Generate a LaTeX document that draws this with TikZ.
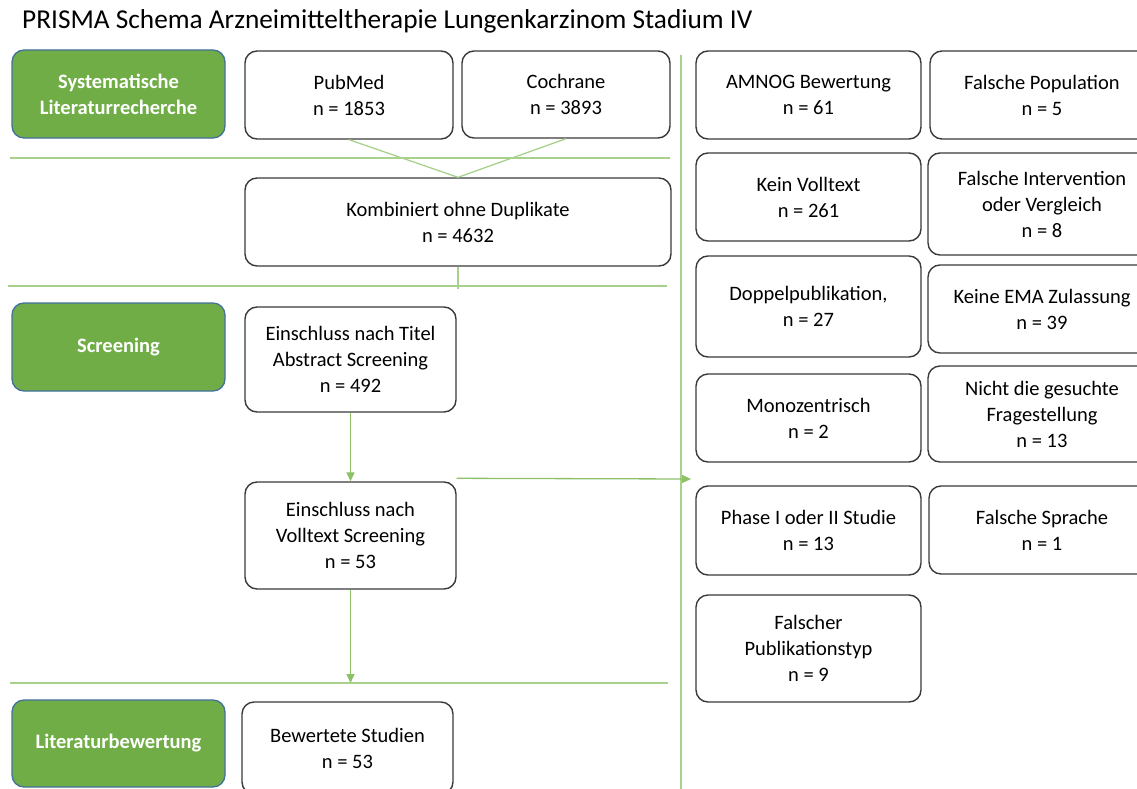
\documentclass[tikz,border=0pt]{standalone}
\usepackage{fontspec}
\setmainfont{Carlito}
\usetikzlibrary{arrows.meta}
\definecolor{gfill}{HTML}{70AD47}
\definecolor{gborder}{HTML}{41719C}
\definecolor{gline}{HTML}{A9D18E}
\definecolor{garrow}{HTML}{8CC168}
\definecolor{boxline}{HTML}{3A3A3A}
\newcommand\mkbox[7]{%
  \node[#1, minimum width={(#5-#3)*1pt}, minimum height={(#6-#4)*1pt}] (#2) at ({(#3+#5)/2},{(#4+#6)/2}) {#7};}
\begin{document}
\begin{tikzpicture}[x=1pt,y=-1pt,
  box/.style={draw=boxline, line width=1.4pt, rounded corners=12pt, fill=white, align=center,
    font=\fontsize{20.5}{26}\selectfont, inner sep=0pt},
  gbox/.style={draw=gborder, line width=1.3pt, rounded corners=12pt, fill=gfill, align=center,
    text=white, font=\fontsize{20.5}{26}\selectfont\bfseries, inner sep=0pt},
  hline/.style={draw=gline, line width=1.2pt},
  conn/.style={draw=gline, line width=1.3pt},
  arr/.style={draw=garrow, line width=1.3pt, -{Triangle[length=9pt,width=8pt]}}]
\useasboundingbox (0,0) rectangle (1137,789);
\clip (0,0) rectangle (1137,789);

\node[anchor=base west, inner sep=0pt, font=\fontsize{27.3}{32}\selectfont] (title) at (22,29)
  {PRISMA Schema Arzneimitteltherapie Lungenkarzinom Stadium IV};

% separator lines
\coordinate (h1a) at (10,158); \coordinate (h1b) at (670,158);
\coordinate (h2a) at (8,286);  \coordinate (h2b) at (667,286);
\coordinate (h3a) at (10,683); \coordinate (h3b) at (668,683);
\coordinate (va) at (681,55);  \coordinate (vb) at (681,789);
\draw[hline] (h1a) -- (h1b);
\draw[hline] (h2a) -- (h2b);
\draw[hline] (h3a) -- (h3b);
\draw[hline] (va) -- (vb);

% phase labels
\mkbox{gbox}{g1}{12}{50}{225}{138}{Systematische\\Literaturrecherche}
\mkbox{gbox}{g2}{12}{303}{225}{391}{Screening}
\mkbox{gbox}{g3}{12}{700}{225}{787}{Literaturbewertung}

% left flow
\mkbox{box}{pub}{245}{51}{453}{139}{PubMed\\n = 1853}
\mkbox{box}{coch}{462}{51}{670}{138}{Cochrane\\n = 3893}
\mkbox{box}{komb}{245}{178}{671}{266}{Kombiniert ohne Duplikate\\n = 4632}
\mkbox{box}{tit}{245}{307}{456}{412}{Einschluss nach Titel\\Abstract Screening\\n = 492}
\mkbox{box}{vt}{245}{482}{456}{589}{Einschluss nach\\Volltext Screening\\n = 53}
\mkbox{box}{bew}{242}{702}{453}{794}{Bewertete Studien\\n = 53}

% right column A
\mkbox{box}{amnog}{696}{51}{921}{139}{AMNOG Bewertung\\n = 61}
\mkbox{box}{kvt}{696}{153}{921}{241}{Kein Volltext\\n = 261}
\mkbox{box}{dopp}{696}{256}{921}{357}{Doppelpublikation,\\n = 27}
\mkbox{box}{mono}{696}{374}{921}{462}{Monozentrisch\\n = 2}
\mkbox{box}{phase}{696}{486}{921}{575}{Phase I oder II Studie\\n = 13}
\mkbox{box}{ptyp}{696}{595}{921}{702}{Falscher\\Publikationstyp\\n = 9}

% right column B (cut at right edge)
\mkbox{box}{fpop}{930}{51}{1154}{139}{Falsche Population\\n = 5}
\mkbox{box}{fint}{928}{153}{1156}{255}{Falsche Intervention\\oder Vergleich\\n = 8}
\mkbox{box}{ema}{928}{265}{1156}{353}{Keine EMA Zulassung\\n = 39}
\mkbox{box}{frag}{928}{366}{1156}{462}{Nicht die gesuchte\\Fragestellung\\n = 13}
\mkbox{box}{spr}{929}{486}{1155}{574}{Falsche Sprache\\n = 1}

% connectors
\draw[conn] (pub.south) -- (komb.north);
\draw[conn] (coch.south) -- (komb.north);
\coordinate (kend) at ([yshift=-3pt]komb.south |- h2a);
\draw[conn] (komb.south) -- (kend);
\draw[arr] (tit.south) -- (vt.north);
\draw[arr] (vt.south) -- (vt.south |- h3a);
\coordinate (xend) at (691,479);
\draw[arr] ([yshift=3pt]vt.north east) -- (xend);
\end{tikzpicture}
\end{document}
